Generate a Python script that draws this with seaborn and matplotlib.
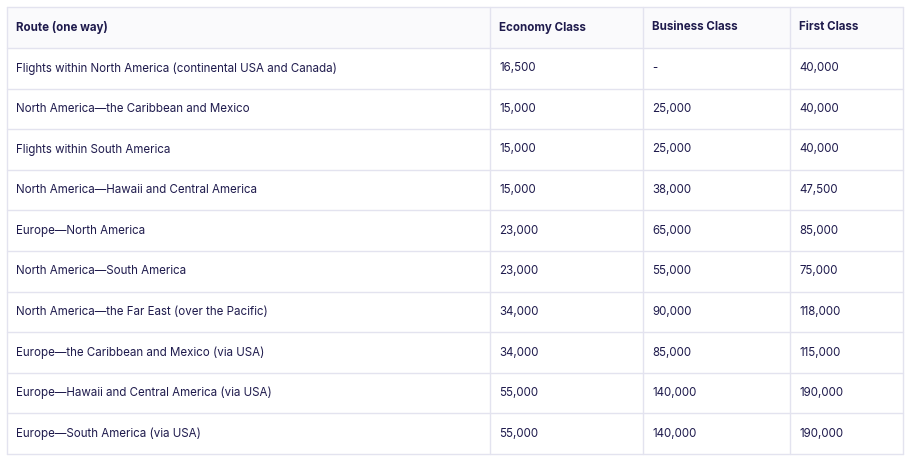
import matplotlib.pyplot as plt
import seaborn as sns

sns.set_theme(style="white")

header = ["Route (one way)", "Economy Class", "Business Class", "First Class"]
routes = [
    "Flights within North America (continental USA and Canada)",
    "North America\u2014the Caribbean and Mexico",
    "Flights within South America",
    "North America\u2014Hawaii and Central America",
    "Europe\u2014North America",
    "North America\u2014South America",
    "North America\u2014the Far East (over the Pacific)",
    "Europe\u2014the Caribbean and Mexico (via USA)",
    "Europe\u2014Hawaii and Central America (via USA)",
    "Europe\u2014South America (via USA)",
]
economy = ["16,500", "15,000", "15,000", "15,000", "23,000", "23,000", "34,000", "34,000", "55,000", "55,000"]
business = ["-", "25,000", "25,000", "38,000", "65,000", "55,000", "90,000", "85,000", "140,000", "140,000"]
first = ["40,000", "40,000", "40,000", "47,500", "85,000", "75,000", "118,000", "115,000", "190,000", "190,000"]

col_x = [7, 490, 643, 790, 903]
top, header_bottom, bottom = 7, 48, 454
row_h = (bottom - header_bottom) / len(routes)
text_color = "#1f1b4d"
line_color = "#e3e3ef"

fig = plt.figure(figsize=(9.09, 4.62), dpi=100)
ax = fig.add_axes([0, 0, 1, 1])
ax.set_xlim(0, 909)
ax.set_ylim(462, 0)
ax.axis("off")

ax.add_patch(plt.Rectangle((col_x[0], top), col_x[-1] - col_x[0], header_bottom - top,
                           facecolor="#fafafc", edgecolor="none"))

row_lines = [top, header_bottom] + [header_bottom + row_h * (i + 1) for i in range(len(routes))]
for y in row_lines:
    ax.plot([col_x[0], col_x[-1]], [y, y], color=line_color, lw=1)
for x in col_x:
    ax.plot([x, x], [top, bottom], color=line_color, lw=1)

for j, h in enumerate(header):
    ax.text(col_x[j] + 9, (top + header_bottom) / 2, h, fontsize=8.3, fontweight="bold",
            color=text_color, va="center", family="Inter")

for i, row in enumerate(zip(routes, economy, business, first)):
    yc = header_bottom + row_h * (i + 0.5)
    for j, val in enumerate(row):
        ax.text(col_x[j] + 9, yc, val, fontsize=8.3, color=text_color, va="center", family="Inter")

fig.savefig("out.png", dpi=100, facecolor="white")
